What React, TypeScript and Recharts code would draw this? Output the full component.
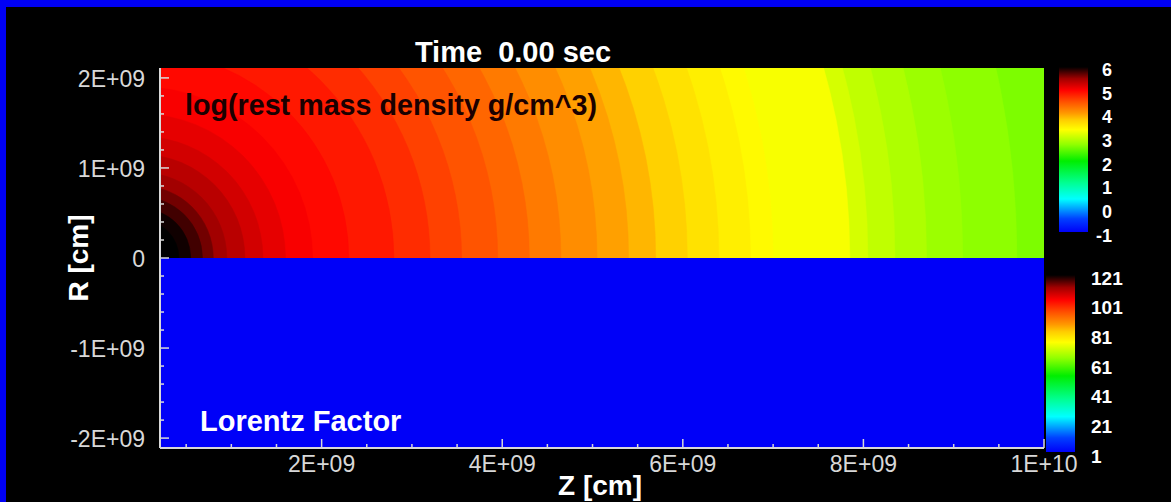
import React from 'react';
import { ComposedChart, XAxis, YAxis, ReferenceArea } from 'recharts';

// upper panel: log10 rest mass density (g/cm^3), banded in spherical radius (cm)
const bandRadius = [
  10.6e9, 9.7e9, 9.1e9, 8.7e9, 8.35e9, 8.05e9, 7.85e9, 7.0e9, 6.75e9, 6.4e9,
  6.05e9, 5.7e9, 5.4e9, 5.05e9, 4.65e9, 4.3e9, 3.95e9, 3.55e9, 3.2e9, 2.8e9,
  2.3e9, 1.9e9, 1.6e9, 1.35e9, 1.15e9, 0.95e9, 0.8e9, 0.68e9, 0.55e9, 0.42e9,
];
const bandLogRho = [
  2.62, 2.7, 2.78, 2.88, 2.98, 3.1, 3.3, 3.38, 3.47, 3.58,
  3.72, 3.88, 4.0, 4.12, 4.25, 4.38, 4.5, 4.62, 4.75, 4.87,
  4.97, 5.05, 5.15, 5.25, 5.38, 5.5, 5.65, 5.8, 5.95, 6.1,
];

// lower panel: Lorentz factor, uniform at t = 0
const lorentzZ = [0.21e9, 1e10];
const lorentzGamma = [1];

const rhoTicks = [6, 5, 4, 3, 2, 1, 0, -1];
const gammaTicks = [121, 101, 81, 61, 41, 21, 1];

const zMajor = [2e9, 4e9, 6e9, 8e9, 1e10];
const zMinor = [0.5, 1, 1.5, 2.5, 3, 3.5, 4.5, 5, 5.5, 6.5, 7, 7.5, 8.5, 9, 9.5].map((v) => v * 1e9);
const rMajor = [-2e9, -1e9, 0, 1e9, 2e9];
const rMinor = [-1.8, -1.6, -1.4, -1.2, -0.8, -0.6, -0.4, -0.2, 0.2, 0.4, 0.6, 0.8, 1.2, 1.4, 1.6, 1.8].map((v) => v * 1e9);

// rainbow colour table, position 0..1 along the colour bar
const cmapPos = [0, 0.08, 0.2, 0.3, 0.43, 0.53, 0.62, 0.68, 0.72, 0.79, 0.86, 0.93, 1];
const cmapHex = ['#0000f8', '#0040ff', '#00ffff', '#00ff90', '#00ee00', '#90ff00', '#ffff00', '#ffcc00', '#ff9900', '#ff5000', '#ff0000', '#a00000', '#000000'];

const hexRgb = (h: string) => [1, 3, 5].map((i) => parseInt(h.slice(i, i + 2), 16));

function cmap(t: number) {
  const f = Math.min(1, Math.max(0, t));
  let i = 0;
  while (i < cmapPos.length - 2 && f > cmapPos[i + 1]) i++;
  const k = (f - cmapPos[i]) / (cmapPos[i + 1] - cmapPos[i]);
  const a = hexRgb(cmapHex[i]);
  const b = hexRgb(cmapHex[i + 1]);
  const c = a.map((v, j) => Math.round(v + (b[j] - v) * k));
  return `rgb(${c[0]},${c[1]},${c[2]})`;
}

const rhoColor = (v: number) => cmap((v + 1) / 7);
const gammaColor = (v: number) => cmap((v - 1) / 120);

const sci = (v: number) => {
  if (Math.abs(v) < 1) return '0';
  const e = Math.floor(Math.log10(Math.abs(v)) + 1e-9);
  const m = Math.round(v / 10 ** e);
  return `${m}E+${String(e).padStart(2, '0')}`;
};

const AXIS = '#d8d8d8';
const SANS = '"Liberation Sans", Arial, sans-serif';
const isMajor = (list: number[], v: number) => list.some((m) => Math.abs(m - v) < 1);

const ZTick = (p: any) => {
  const v = p.payload.value;
  const major = isMajor(zMajor, v);
  return (
    <g>
      <line x1={p.x} x2={p.x} y1={p.y} y2={p.y - (major ? 9 : 4)} stroke={AXIS} strokeWidth={1.5} />
      {major && (
        <text x={p.x} y={p.y + 24} textAnchor="middle" fill={AXIS} fontSize={23} fontFamily={SANS}>
          {sci(v)}
        </text>
      )}
    </g>
  );
};

const RTick = (p: any) => {
  const v = p.payload.value;
  const major = isMajor(rMajor, v);
  return (
    <g>
      <line x1={p.x} x2={p.x + (major ? 9 : 4)} y1={p.y} y2={p.y} stroke={AXIS} strokeWidth={1.5} />
      {major && (
        <text x={p.x - 15} y={p.y + 9} textAnchor="end" fill={AXIS} fontSize={23} fontFamily={SANS}>
          {sci(v)}
        </text>
      )}
    </g>
  );
};

// ReferenceArea from the origin to (r, r) gives the band radius in pixels on both axes
const halfDisc = (fill: string) => (p: any) => {
  const cx = p.x;
  const cy = p.y + p.height;
  const rx = p.width;
  const ry = p.height;
  const d = `M${cx - rx},${cy} A${rx},${ry} 0 0 1 ${cx + rx},${cy} Z`;
  return <path d={d} fill={fill} stroke={fill} strokeWidth={0.5} clipPath={p.clipPath} />;
};

function ColorBar({ id, x, y, w, h }: { id: string; x: number; y: number; w: number; h: number }) {
  return (
    <g>
      <defs>
        <linearGradient id={id} x1="0" y1="1" x2="0" y2="0">
          {cmapPos.map((p, i) => (
            <stop key={i} offset={p} stopColor={cmapHex[i]} />
          ))}
        </linearGradient>
      </defs>
      <rect x={x} y={y} width={w} height={h} fill={`url(#${id})`} />
    </g>
  );
}

export default function App() {
  const bold = { fontFamily: SANS, fontWeight: 700 } as const;
  return (
    <div style={{ position: 'absolute', left: 0, top: 0, width: 1171, height: 502, background: '#000', overflow: 'hidden' }}>
      <ComposedChart width={1171} height={502} margin={{ top: 68, right: 127, bottom: 0, left: 0 }}>
        <XAxis
          type="number"
          dataKey="z"
          domain={[0.21e9, 1e10]}
          allowDataOverflow
          ticks={[...zMinor, ...zMajor].sort((a, b) => a - b)}
          interval={0}
          height={54}
          tickSize={0}
          tickMargin={0}
          tickLine={false}
          axisLine={{ stroke: AXIS, strokeWidth: 2 }}
          tick={ZTick}
        />
        <YAxis
          type="number"
          dataKey="r"
          domain={[-2.11e9, 2.11e9]}
          allowDataOverflow
          ticks={[...rMinor, ...rMajor].sort((a, b) => a - b)}
          interval={0}
          width={160}
          tickSize={0}
          tickMargin={0}
          tickLine={false}
          axisLine={{ stroke: AXIS, strokeWidth: 2 }}
          tick={RTick}
        />
        {bandRadius.map((r, i) => (
          <ReferenceArea
            key={`b${i}`}
            x1={0}
            x2={r}
            y1={0}
            y2={r}
            ifOverflow="hidden"
            shape={halfDisc(rhoColor(bandLogRho[i]))}
          />
        ))}
        {lorentzGamma.map((g, i) => (
          <ReferenceArea
            key={`g${i}`}
            x1={lorentzZ[0]}
            x2={lorentzZ[1]}
            y1={-2.11e9}
            y2={0}
            ifOverflow="hidden"
            fill={gammaColor(g)}
            fillOpacity={1}
            stroke="none"
          />
        ))}
      </ComposedChart>

      <svg width={1171} height={502} style={{ position: 'absolute', left: 0, top: 0, pointerEvents: 'none' }}>
        <rect x={0} y={0} width={1171} height={7} fill="#0000f4" />
        <rect x={0} y={0} width={6} height={502} fill="#0000f4" />

        <text x={513} y={62} textAnchor="middle" fill="#fff" fontSize={29} style={{ whiteSpace: 'pre' }} {...bold}>
          {'Time  0.00 sec'}
        </text>
        <text x={88} y={258} textAnchor="middle" fill="#fff" fontSize={28} transform="rotate(-90 88 258)" {...bold}>
          R [cm]
        </text>
        <text x={600} y={495} textAnchor="middle" fill="#fff" fontSize={28} {...bold}>
          Z [cm]
        </text>
        <text x={185} y={115} fill="#1a0000" fontSize={29} textLength={412} lengthAdjust="spacingAndGlyphs" {...bold}>
          log(rest mass density g/cm^3)
        </text>
        <text x={200} y={431} fill="#fff" fontSize={29} {...bold}>
          Lorentz Factor
        </text>

        <ColorBar id="rhoBar" x={1059} y={67} w={29} h={165} />
        {rhoTicks.map((v) => (
          <text key={v} x={1112} y={69.5 + ((6 - v) / 7) * 165.5 + 6.5} textAnchor="end" fill="#fff" fontSize={18} {...bold}>
            {v}
          </text>
        ))}
        <ColorBar id="gammaBar" x={1046} y={275} w={29} h={177} />
        {gammaTicks.map((v) => (
          <text key={v} x={1091} y={277.5 + ((121 - v) / 120) * 178 + 7} fill="#fff" fontSize={19} {...bold}>
            {v}
          </text>
        ))}
      </svg>
    </div>
  );
}
